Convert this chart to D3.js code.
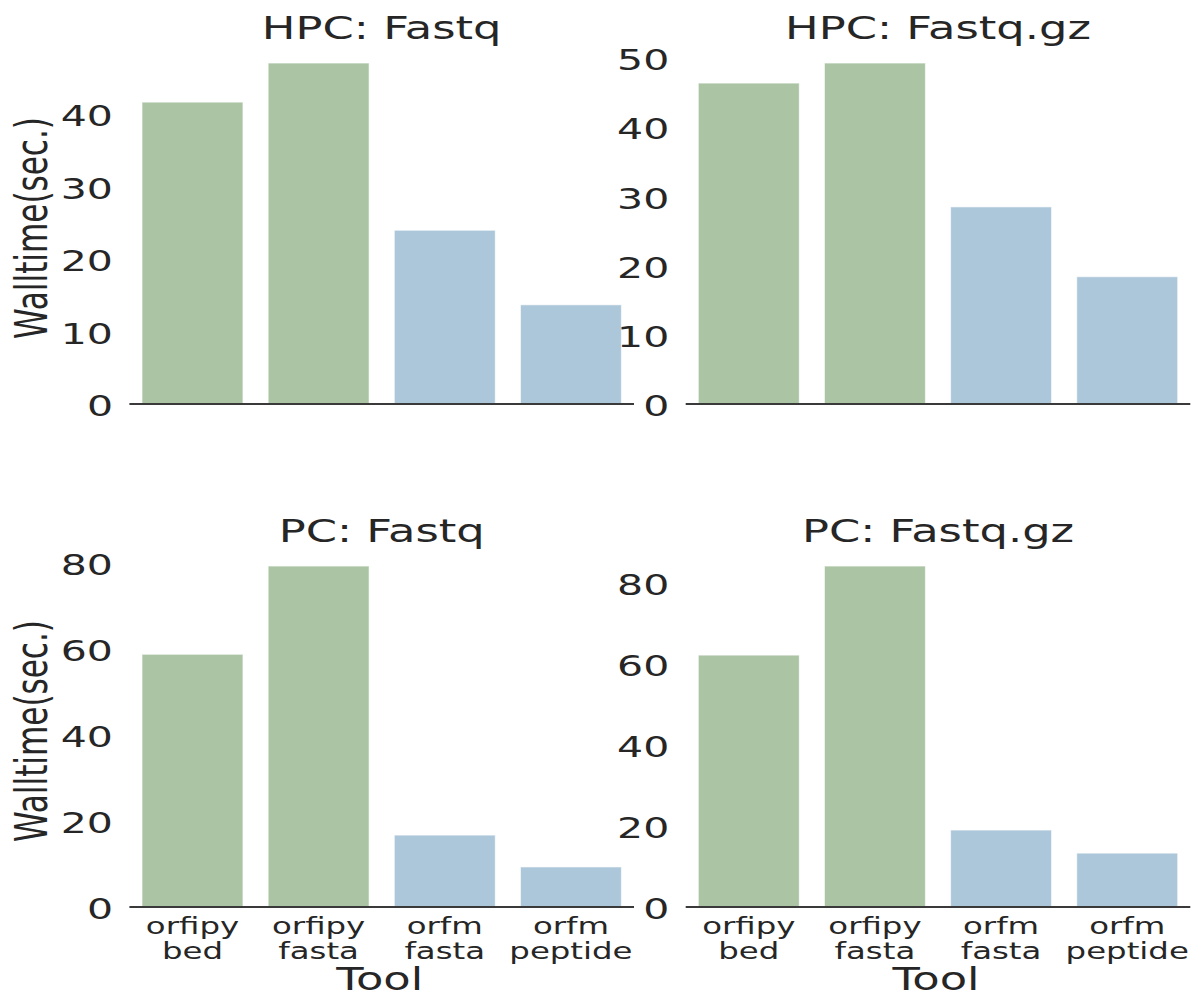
<!DOCTYPE html>
<html>
<head>
<meta charset="utf-8">
<script src="https://cdn.jsdelivr.net/npm/d3@7"></script>
<style>
  body { margin: 0; background: #fff; }
  text { font-family: "DejaVu Sans", sans-serif; fill: #262626; }
</style>
</head>
<body>
<div id="chart"></div>
<script>
// Tools (x categories), split into two lines for the tick labels
const tools = ["orfipy\nbed", "orfipy\nfasta", "orfm\nfasta", "orfm\npeptide"];
const toolColors = ["#aac4a4", "#aac4a4", "#adc7da", "#adc7da"];

// Walltime in seconds for each panel
const hpcFastq = [41.7, 47.1, 24.0, 13.7];
const hpcFastqGz = [46.4, 49.3, 28.5, 18.4];
const pcFastq = [58.7, 79.2, 16.7, 9.3];
const pcFastqGz = [62.2, 84.2, 19.0, 13.3];

const titles = ["HPC: Fastq", "HPC: Fastq.gz", "PC: Fastq", "PC: Fastq.gz"];

const width = 1191;
const height = 996;
const stretch = 1.44; // text in the picture is drawn wide

const svg = d3.select("#chart")
  .append("svg")
  .attr("width", width)
  .attr("height", height);

// Panel geometry
const colX = [129.4, 685.7];
const rowBase = [404, 907];
const panelW = 504.6;
const panelH = 358;

const panels = [
  { data: hpcFastq, title: titles[0], col: 0, row: 0 },
  { data: hpcFastqGz, title: titles[1], col: 1, row: 0 },
  { data: pcFastq, title: titles[2], col: 0, row: 1 },
  { data: pcFastqGz, title: titles[3], col: 1, row: 1 }
];

// Helper: text stretched horizontally around its anchor
function wideText(parent, x, y, str, size, anchor, rotate) {
  const g = parent.append("g")
    .attr("transform", `translate(${x},${y}) scale(${stretch},1)` + (rotate ? ` rotate(${rotate})` : ""));
  return g.append("text")
    .attr("text-anchor", anchor)
    .style("font-size", size + "px")
    .text(str);
}

panels.forEach(p => {
  const x0 = colX[p.col];
  const base = rowBase[p.row];
  const g = svg.append("g");

  const x = d3.scaleBand()
    .domain(tools)
    .range([x0, x0 + panelW])
    .paddingInner(0.2)
    .paddingOuter(0.1);

  const y = d3.scaleLinear()
    .domain([0, d3.max(p.data) * 1.05])
    .range([base, base - panelH]);

  // Bars
  g.selectAll("rect")
    .data(p.data)
    .enter()
    .append("rect")
    .attr("x", (d, i) => x(tools[i]))
    .attr("width", x.bandwidth())
    .attr("y", d => y(d))
    .attr("height", d => y(0) - y(d))
    .attr("fill", (d, i) => toolColors[i])
    .attr("stroke", "#ffffff")
    .attr("stroke-opacity", 0.6)
    .attr("stroke-width", 1);

  // Bottom spine
  g.append("line")
    .attr("x1", x0).attr("x2", x0 + panelW)
    .attr("y1", base).attr("y2", base)
    .attr("stroke", "#3a3a3a")
    .attr("stroke-width", 2);

  // Y tick labels (no tick marks, no left spine)
  y.ticks(5).forEach(t => {
    wideText(g, x0 - 16.4, y(t) + 12, d3.format("d")(t), 28.5, "end");
  });

  // Title
  wideText(g, x0 + panelW / 2, base - panelH - 7, p.title, 31.1, "middle");

  // Y axis label on the left column
  if (p.col === 0) {
    wideText(g, 47, base - panelH / 2 + 3, "Walltime(sec.)", 31.1, "middle", -90);
  }

  // X tick labels and axis label on the bottom row
  if (p.row === 1) {
    tools.forEach(t => {
      const lines = t.split("\n");
      const cx = x(t) + x.bandwidth() / 2;
      lines.forEach((ln, k) => {
        wideText(g, cx, base + 27 + k * 24.5, ln, 22.5, "middle");
      });
    });
    wideText(g, x0 + panelW / 2 - 2, 990, "Tool", 31.1, "middle");
  }
});
</script>
</body>
</html>
